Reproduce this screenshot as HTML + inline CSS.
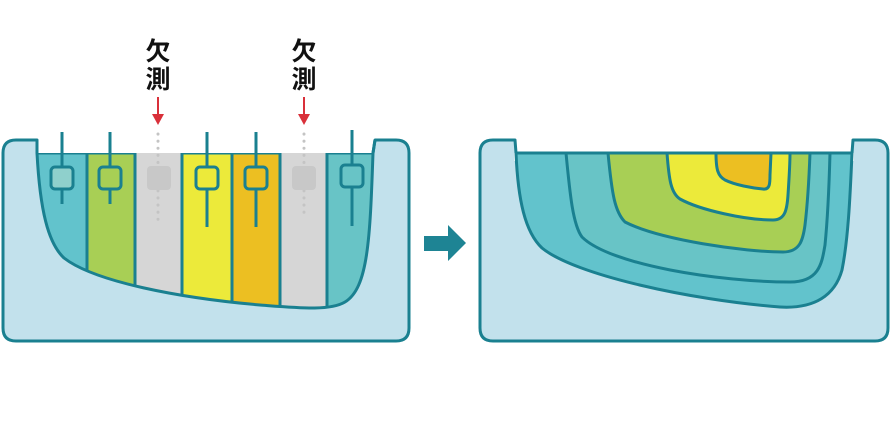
<!DOCTYPE html>
<html><head><meta charset="utf-8"><style>
html,body{margin:0;padding:0;background:#fff;}
svg{display:block;}
text{font-family:"Liberation Sans","Noto Sans CJK JP",sans-serif;font-weight:bold;}
</style></head><body>
<svg width="890" height="440" viewBox="0 0 890 440" xmlns="http://www.w3.org/2000/svg">
<defs>
<clipPath id="pitL"><path d="M37,153 C40,210 48,243 64,258 C95,282 180,298 260,305 C300,308 330,311 345,302 C368,288 370,240 373,153 Z"/></clipPath>
</defs>
<!-- LEFT BOX -->
<path d="M37,153 L37,140 L16,140 Q3,140 3,153 L3,328 Q3,341 16,341 L396,341 Q409,341 409,328 L409,153 Q409,140 396,140 L375,140 L373,153" fill="#c2e1ec" stroke="#1a8090" stroke-width="3" stroke-linejoin="round"/>
<rect x="36" y="153" width="338" height="8" fill="#fff"/>
<g clip-path="url(#pitL)">
<rect x="30" y="153" width="57" height="170" fill="#62c3cc"/>
<rect x="87" y="153" width="48" height="170" fill="#a8cf55"/>
<rect x="135" y="153" width="47" height="170" fill="#d6d6d6"/>
<rect x="182" y="153" width="50" height="170" fill="#ecea3a"/>
<rect x="232" y="153" width="48" height="170" fill="#ecbf22"/>
<rect x="280" y="153" width="47" height="170" fill="#d6d6d6"/>
<rect x="327" y="153" width="50" height="170" fill="#68c4c6"/>
<g stroke="#1a8090" stroke-width="3" fill="none">
<path d="M37,153 L135,153 M182,153 L280,153 M327,153 L375,153"/>
<path d="M87,153 V330 M135,153 V330 M182,153 V330 M232,153 V330 M280,153 V330 M327,153 V330"/>
</g>
</g>
<path d="M37,140 L37,153 C40,210 48,243 64,258 C95,282 180,298 260,305 C300,308 330,311 345,302 C368,288 370,240 373,153 L375,140" fill="none" stroke="#1a8090" stroke-width="3"/>
<!-- handles -->
<g stroke="#1a8090" stroke-width="3">
<line x1="62" y1="132" x2="62" y2="204"/>
<line x1="110" y1="132" x2="110" y2="204"/>
<line x1="207" y1="132" x2="207" y2="227"/>
<line x1="256" y1="132" x2="256" y2="227"/>
<line x1="352" y1="130" x2="352" y2="226"/>
<rect x="51" y="167" width="22" height="22" rx="4" fill="#8fd0cc"/>
<rect x="99" y="167" width="22" height="22" rx="4" fill="#a8cf55"/>
<rect x="196" y="167" width="22" height="22" rx="4" fill="#ecea3a"/>
<rect x="245" y="167" width="22" height="22" rx="4" fill="#ecbf22"/>
<rect x="341" y="165" width="22" height="22" rx="4" fill="#68c4c6"/>
</g>
<g stroke="#c4c4c4" stroke-width="3" stroke-linecap="round" stroke-dasharray="0.1 7">
<line x1="158" y1="134" x2="158" y2="226"/>
<line x1="304" y1="134" x2="304" y2="218"/>
</g>
<rect x="147" y="166" width="24" height="24" rx="4" fill="#c8c8c8"/>
<rect x="292" y="166" width="24" height="24" rx="4" fill="#c8c8c8"/>
<!-- labels -->
<g font-size="25" text-anchor="middle" fill="#111">
<text x="158" y="60">欠</text><text x="158" y="88">測</text>
<text x="304" y="60">欠</text><text x="304" y="88">測</text>
</g>
<g stroke="#d9303a" stroke-width="2" fill="#d9303a">
<line x1="158" y1="97" x2="158" y2="116"/><path d="M152,114 L164,114 L158,125 Z" stroke="none"/>
<line x1="304" y1="97" x2="304" y2="116"/><path d="M298,114 L310,114 L304,125 Z" stroke="none"/>
</g>
<!-- ARROW -->
<path d="M424,236 L448,236 L448,225 L466,243 L448,261 L448,251 L424,251 Z" fill="#1e8494"/>
<!-- RIGHT BOX -->
<path d="M493,140 L515,140 L516,153 L852,153 L853,140 L875,140 Q888,140 888,153 L888,328 Q888,341 875,341 L493,341 Q480,341 480,328 L480,153 Q480,140 493,140 Z" fill="#c2e1ec" stroke="#1a8090" stroke-width="3" stroke-linejoin="round"/>
<rect x="514" y="153" width="340" height="8" fill="#fff"/>
<g stroke="#1a8090" stroke-width="3" stroke-linejoin="round">
<path d="M516,153 C518,200 525,232 542,248 C575,275 690,300 780,307 C815,309 835,295 842,270 C848,240 850,200 852,153 Z" fill="#62c3cc"/>
<path d="M566,153 C570,195 573,225 582,237 C610,265 720,282 790,282 C820,282 822,262 825,245 C828,215 829,190 830,153 Z" fill="#68c4c6"/>
<path d="M608,153 C612,195 615,212 625,222 C660,240 745,252 783,252 C800,252 803,240 805,225 C808,200 809,180 810,153 Z" fill="#a8cf55"/>
<path d="M667,153 C669,180 671,193 680,199 C700,210 745,220 773,220 C785,220 787,210 788,195 C789,180 790,165 790,153 Z" fill="#ecea3a"/>
<path d="M716,153 C716,170 718,176 725,180 C735,185 752,188 763,189 C770,190 770,183 770,175 L771,153 Z" fill="#ecbf22"/>
<line x1="516" y1="153" x2="852" y2="153" fill="none"/>
</g>
</svg>
</body></html>
